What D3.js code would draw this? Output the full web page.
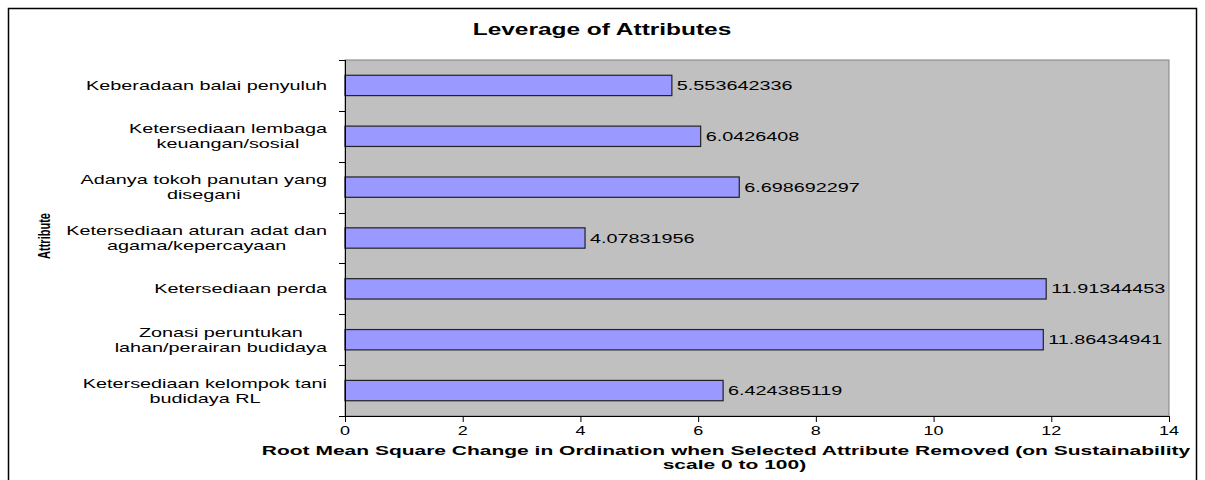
<!DOCTYPE html>
<html>
<head>
<meta charset="utf-8">
<script src="https://cdn.jsdelivr.net/npm/d3@7"></script>
<style>
  body { margin: 0; background: #fff; }
  text { font-family: "Liberation Sans", Arial, sans-serif; fill: #000; }
</style>
</head>
<body>
<div id="chart"></div>
<script>
(function(){
  // attribute names (top to bottom), '\n' marks the line breaks
  const attributes = [
    'Keberadaan balai penyuluh',
    'Ketersediaan lembaga\nkeuangan/sosial',
    'Adanya tokoh  panutan yang\ndisegani',
    'Ketersediaan aturan adat dan\nagama/kepercayaan',
    'Ketersediaan perda',
    'Zonasi peruntukan\nlahan/perairan budidaya',
    'Ketersediaan kelompok tani\nbudidaya RL'
  ];
  const rmsValues = [5.553642336, 6.0426408, 6.698692297, 4.07831956, 11.91344453, 11.86434941, 6.424385119];
  const xTicks = [0, 2, 4, 6, 8, 10, 12, 14];

  const width = 1205;
  const height = 480;
  const margin = { top: 60, right: 36, bottom: 64, left: 345 };
  const plotW = width - margin.left - margin.right;
  const plotH = height - margin.top - margin.bottom;

  // the source picture is stretched sideways, so text is widened too
  const stretch = 1.5;

  const svg = d3.select('#chart')
    .append('svg')
    .attr('width', width)
    .attr('height', height);

  // outer chart border
  svg.append('rect')
    .attr('x', 8.5).attr('y', 8.5)
    .attr('width', 1188).attr('height', 480)
    .attr('fill', '#fff')
    .attr('stroke', '#000')
    .attr('stroke-width', 1.5);

  // text anchored at (ax, ay), widened by sx
  function wideText(parent, ax, ay, sx) {
    return parent.append('g')
      .attr('transform', 'translate(' + ax + ',' + ay + ') scale(' + sx + ',1)')
      .append('text');
  }

  const g = svg.append('g')
    .attr('transform', 'translate(' + margin.left + ',' + margin.top + ')');

  const x = d3.scaleLinear().domain([0, 14]).range([0, plotW]);
  const y = d3.scaleBand().domain(d3.range(attributes.length)).range([0, plotH]).paddingInner(0.6).paddingOuter(0.3);
  const yBand = d3.scaleBand().domain(d3.range(attributes.length)).range([0, plotH]);

  // plot area
  g.append('rect')
    .attr('width', plotW).attr('height', plotH)
    .attr('fill', '#c0c0c0')
    .attr('stroke', '#808080');

  // bars
  g.selectAll('.bar')
    .data(rmsValues)
    .enter().append('rect')
    .attr('class', 'bar')
    .attr('x', 0)
    .attr('y', (d, i) => y(i))
    .attr('width', d => x(d))
    .attr('height', y.bandwidth())
    .attr('fill', '#9999ff')
    .attr('stroke', '#222')
    .attr('stroke-width', 1.2);

  // value labels
  rmsValues.forEach((d, i) => {
    wideText(g, x(d) + 5, y(i) + y.bandwidth() / 2, stretch)
      .attr('dy', '0.35em')
      .style('font-size', '13.2px')
      .text(String(d));
  });

  // x axis
  const xAxis = g.append('g')
    .attr('transform', 'translate(0,' + plotH + ')')
    .call(d3.axisBottom(x).tickValues(xTicks).tickSize(6).tickFormat(''));
  xAxis.select('.domain').attr('stroke', '#000');
  xAxis.selectAll('.tick line').attr('stroke', '#000');
  xTicks.forEach(t => {
    wideText(g, x(t), plotH + 19, stretch)
      .attr('text-anchor', 'middle')
      .style('font-size', '12px')
      .text(t);
  });

  // y axis: ticks on band boundaries
  g.append('line')
    .attr('x1', 0.5).attr('x2', 0.5)
    .attr('y1', 0).attr('y2', plotH)
    .attr('stroke', '#000');
  g.selectAll('.ytick')
    .data(d3.range(attributes.length + 1))
    .enter().append('line')
    .attr('class', 'ytick')
    .attr('x1', -6).attr('x2', 0)
    .attr('y1', i => Math.round(i < attributes.length ? yBand(i) : plotH) + 0.5)
    .attr('y2', i => Math.round(i < attributes.length ? yBand(i) : plotH) + 0.5)
    .attr('stroke', '#000');

  // category labels, multiline blocks right-aligned, lines centred within block
  attributes.forEach((d, i) => {
    const lines = d.split('\n');
    const t = wideText(g, -18, yBand(i) + yBand.bandwidth() / 2, stretch)
      .attr('text-anchor', 'middle')
      .style('font-size', '13.2px');
    lines.forEach((ln, k) => {
      t.append('tspan').text(ln).attr('x', 0)
        .attr('y', (k - (lines.length - 1) / 2) * 15)
        .attr('dy', '0.35em');
    });
    const w = d3.max(t.selectAll('tspan').nodes(), n => n.getComputedTextLength());
    t.selectAll('tspan').attr('x', -w / 2);
  });

  // title
  wideText(svg, 602, 35, 1.53)
    .attr('text-anchor', 'middle')
    .style('font-size', '16px')
    .style('font-weight', 'bold')
    .text('Leverage of Attributes');

  // x axis title
  const xt = wideText(svg, 726, 455, 1.68)
    .attr('text-anchor', 'middle')
    .style('font-size', '12.5px')
    .style('font-weight', 'bold');
  xt.append('tspan').attr('x', 0).attr('y', 0).text('Root Mean Square Change in Ordination when Selected Attribute Removed (on Sustainability');
  xt.append('tspan').attr('x', 5).attr('y', 14).text('scale 0 to 100)');

  // y axis title (rotated, then widened like the rest)
  svg.append('g')
    .attr('transform', 'translate(50,236) scale(' + stretch + ',1) rotate(-90)')
    .append('text')
    .attr('text-anchor', 'middle')
    .style('font-size', '11px')
    .style('font-weight', 'bold')
    .text('Attribute');
})();
</script>
</body>
</html>
